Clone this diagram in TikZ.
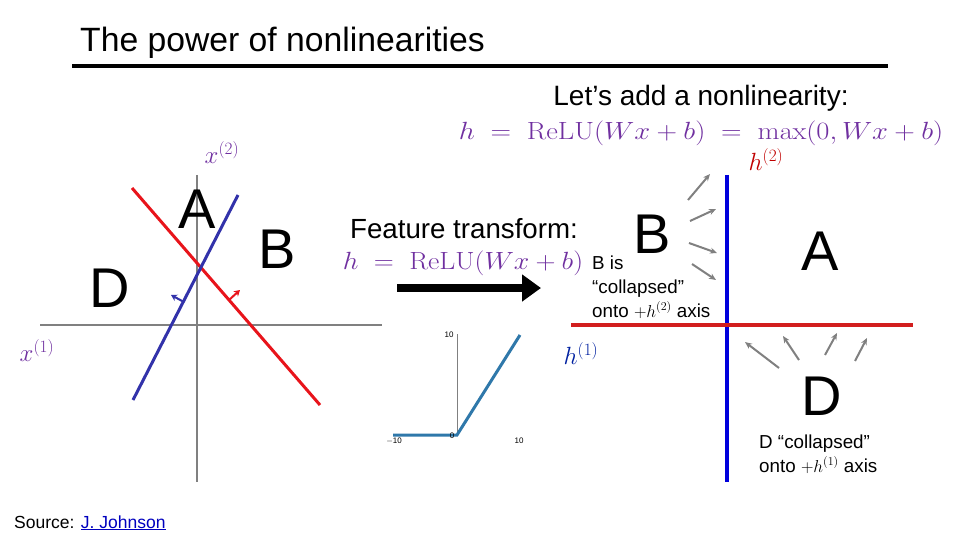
\documentclass[tikz,border=0pt]{standalone}
\usepackage[no-math]{fontspec}
\setmainfont{Liberation Sans}
\usetikzlibrary{arrows.meta}
\definecolor{mpurple}{RGB}{112,48,160}
\definecolor{hred}{RGB}{192,0,0}
\definecolor{hblue}{RGB}{0,32,160}
\definecolor{lred}{RGB}{232,20,27}
\definecolor{lblue}{RGB}{50,50,170}
\definecolor{rblue}{RGB}{0,0,220}
\definecolor{rred}{RGB}{210,30,30}
\definecolor{axgray}{RGB}{128,128,128}
\definecolor{relublue}{RGB}{47,120,170}
\definecolor{linkblue}{RGB}{0,0,190}
\newcommand{\fs}[1]{\fontsize{#1}{#1}\selectfont}
\begin{document}
\begin{tikzpicture}[x=1pt,y=-1pt,
  big/.style={inner sep=0pt,anchor=base,font=\fs{56}},
  lbl/.style={inner sep=0pt,font=\fs{25}},
  small/.style={inner sep=0pt,anchor=base west,font=\fs{18.8}},
  grayarrow/.style={draw=axgray,line width=2pt,-{Stealth[length=7pt,width=6pt]}},
  axis/.style={draw=axgray,line width=2.5pt}]
\useasboundingbox (0,0) rectangle (960,540);
% title
\node[inner sep=0pt,anchor=base west,font=\fs{33.7}] (title) at (80,52) {The power of nonlinearities};
\draw[line width=4pt] (72,66) -- (888,66);
% top right heading
\node[inner sep=0pt,anchor=base,font=\fs{28}] (lets) at (701,106) {Let’s add a nonlinearity:};
\node[inner sep=0pt,anchor=base,font=\fs{31},text=mpurple] (eq1) at (701,140)
  {\scalebox{1.145}[1]{$h\;=\;\mathrm{ReLU}(Wx+b)\;=\;\max(0,Wx+b)$}};
% left plot axes
\draw[axis] (40,325) -- (382,325);
\draw[axis] (197,175) -- (197,482);
\draw[lred,line width=3pt] (132,188) -- (320,405);
\draw[lblue,line width=3pt] (238,195) -- (133,400);
\draw[lred,line width=2pt,-{Stealth[length=6pt,width=7pt]}] (229,300) -- (240,290);
\draw[lblue,line width=2pt,-{Stealth[length=6pt,width=7pt]}] (184,302) -- (171,295);
\node[lbl,text=mpurple] (x2) at (222,153) {$x^{(2)}$};
\node[lbl,text=mpurple] (x1) at (37,351) {$x^{(1)}$};
\node[big] (A1) at (197,228) {A};
\node[big] (B1) at (277,268) {B};
\node[big] (D1) at (110,307) {D};
% feature transform
\node[inner sep=0pt,anchor=base,font=\fs{27.7}] (ft) at (464,238) {Feature transform:};
\node[inner sep=0pt,anchor=base,font=\fs{31},text=mpurple] (eq2) at (463,269) {\scalebox{1.115}[1]{$h\;=\;\mathrm{ReLU}(Wx+b)$}};
\coordinate (arrS) at (397,288);
\coordinate (arrE) at (541,288);
\draw[line width=8pt,-{Triangle[length=19pt,width=26pt]}] (arrS) -- (arrE);
% relu plot
\draw[axgray,line width=0.8pt] (457,334) -- (457,435);
\draw[relublue,line width=3pt] (393,435) -- (457,435) -- (520,335);
\node[inner sep=0pt,font=\fs{8}] (t10y) at (449,335) {10};
\node[inner sep=0pt,font=\fs{8}] (tm10) at (394,441) {$-$10};
\node[inner sep=0pt,font=\fs{8}] (t0) at (452,436) {0};
\node[inner sep=0pt,font=\fs{8}] (t10x) at (519,441) {10};
% right plot
\draw[rblue,line width=3.5pt] (727,175) -- (727,482);
\draw[rred,line width=3.5pt] (571,325) -- (913,325);
\node[lbl,text=hred] (h2) at (766,160) {$h^{(2)}$};
\node[lbl,text=hblue] (h1) at (581,354) {$h^{(1)}$};
\node[big] (B2) at (652,253) {B};
\node[big] (A2) at (820,270) {A};
\node[big] (D2) at (822,415) {D};
\draw[grayarrow] (688,200) -- (710,174);
\draw[grayarrow] (690,221) -- (716,209);
\draw[grayarrow] (689,243) -- (717,253);
\draw[grayarrow] (692,264) -- (716,280);
\draw[grayarrow] (779,368) -- (745,342);
\draw[grayarrow] (799,360) -- (783,336);
\draw[grayarrow] (825,355) -- (837,333);
\draw[grayarrow] (855,361) -- (867,338);
\node[small] (bt1) at (592,269) {B is};
\node[small] (bt2) at (592,293) {“collapsed”};
\node[small] (bt3) at (592,317) {onto $+h^{(2)}$ axis};
\node[small] (dt1) at (759,448) {D “collapsed”};
\node[small] (dt2) at (759,472) {onto $+h^{(1)}$ axis};
% source
\node[inner sep=0pt,anchor=base west,font=\fs{17.5}] (src) at (14,528) {Source: \textcolor{linkblue}{\underline{J. Johnson}}};
\end{tikzpicture}
\end{document}
